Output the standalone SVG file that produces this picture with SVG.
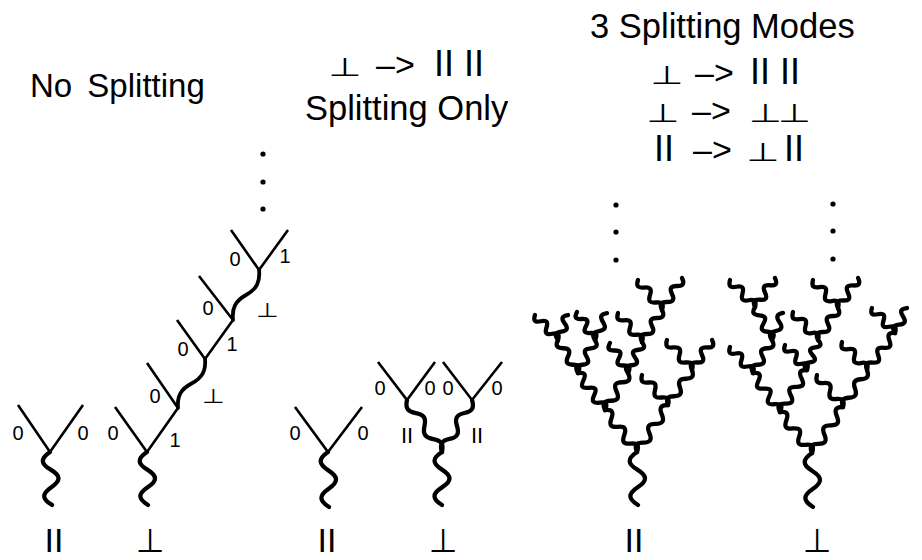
<svg xmlns="http://www.w3.org/2000/svg" width="922" height="560" viewBox="0 0 922 560">
<style>
.s{fill:none;stroke:#000;stroke-width:2.6;stroke-linecap:butt}
.wv{fill:none;stroke:#000;stroke-width:4.3;stroke-linecap:round;stroke-linejoin:round;vector-effect:non-scaling-stroke}
.wt{fill:none;stroke:#000;stroke-width:3.8;stroke-linecap:round;stroke-linejoin:round;vector-effect:non-scaling-stroke}
.t{font-family:"Liberation Sans",Arial,sans-serif;fill:#000}
.u{font-family:"DejaVu Sans",sans-serif;fill:#000;text-anchor:middle}
.n{font-family:"Liberation Sans",Arial,sans-serif;font-size:20px;fill:#000;text-anchor:middle}
.h{font-size:34px}
.b{font-size:34px;text-anchor:middle}
</style>
<defs>
<path id="w2" class="wt" d="M0,0 C0.18,1.333 0.32,1.333 0.5,0 S0.82,-1.333 1,0"/>
<path id="w3" class="wv" d="M0,0 C0.12,1.333 0.21333,1.333 0.33333,0 S0.54667,-1.333 0.66667,0 S0.88,1.333 1,0"/>
<path id="w4" class="wv" d="M0,0 C0.09,1.333 0.16,1.333 0.25,0 S0.41,-1.333 0.5,0 S0.66,1.333 0.75,0 S0.91,-1.333 1,0"/>
<path id="w5" class="wv" d="M0,0 C0.072,1.333 0.128,1.333 0.2,0 S0.328,-1.333 0.4,0 S0.528,1.333 0.6,0 S0.728,-1.333 0.8,0 S0.928,1.333 1,0"/>
</defs>
<rect width="922" height="560" fill="#fff"/>

<g id="titles">
<text class="t" x="30" y="97" font-size="33" word-spacing="6">No Splitting</text>
<text class="u" font-size="28" transform="translate(345,76) scale(1.36,0.92)">⊥</text>
<text class="t h" x="376" y="76">–&gt;</text>
<text class="t" x="434" y="76" font-size="36">II II</text>
<text class="t" x="305" y="120" font-size="34.5">Splitting Only</text>
<text class="t" x="590" y="38" font-size="34.5">3 Splitting Modes</text>
<text class="u" font-size="28" transform="translate(667,84) scale(1.36,0.92)">⊥</text>
<text class="t h" x="695" y="84">–&gt;</text>
<text class="t" x="750" y="84" font-size="36">II II</text>
<text class="u" font-size="28" transform="translate(663,122) scale(1.36,0.92)">⊥</text>
<text class="t h" x="692" y="122">–&gt;</text>
<text class="u" font-size="28" letter-spacing="-3" transform="translate(778,122) scale(1.36,0.92)">⊥⊥</text>
<text class="t" x="654" y="161" font-size="36">II</text>
<text class="t h" x="693" y="161">–&gt;</text>
<text class="u" font-size="28" transform="translate(763,161) scale(1.36,0.92)">⊥</text>
<text class="t" x="784" y="161" font-size="36">II</text>
</g>

<g id="no-splitting-parallel">
<path class="s" d="M18,405 L50,452 L83,405"/>
<use href="#w3" transform="translate(50,452) rotate(87.8) scale(53,7.5)"/>
<text class="n" x="18" y="440">0</text>
<text class="n" x="83" y="440">0</text>
<text class="t b" x="54" y="552">II</text>
</g>

<g id="no-splitting-perp">
<path class="s" d="M115,407 L147,452 L178,408 M147,363 L178,408 M177,320 L205,359 L233,320 M199,276 L233,320 M231,230 L259,270 L288,230"/>
<use href="#w3" transform="translate(147,452) rotate(88.9) scale(53,7.5)"/>
<use href="#w2" transform="translate(178,408) rotate(-61.1) scale(56,-5)"/>
<use href="#w2" transform="translate(233,320) rotate(-62.5) scale(56.4,-5)"/>
<text class="n" x="113" y="440">0</text>
<text class="n" x="175" y="447">1</text>
<text class="n" x="155" y="403">0</text>
<text class="u" font-size="20" transform="translate(213,403) scale(1.3,1)">⊥</text>
<text class="n" x="183" y="356">0</text>
<text class="n" x="232" y="351">1</text>
<text class="n" x="208" y="315">0</text>
<text class="u" font-size="20" transform="translate(267,317) scale(1.3,1)">⊥</text>
<text class="n" x="235" y="266">0</text>
<text class="n" x="285" y="263">1</text>
<circle cx="263" cy="154" r="2.6"/>
<circle cx="263" cy="182" r="2.6"/>
<circle cx="263" cy="209" r="2.6"/>
<text class="u" x="150" y="552" font-size="33">⊥</text>
</g>

<g id="splitting-only-parallel">
<path class="s" d="M295,407 L328,452 L362,407"/>
<use href="#w3" transform="translate(328,452) rotate(88.9) scale(55,7.5)"/>
<text class="n" x="295" y="440">0</text>
<text class="n" x="363" y="440">0</text>
<text class="t b" x="327" y="552">II</text>
</g>

<g id="splitting-only-perp">
<path class="s" d="M378,362 L407,400 L435,362 M443,362 L472,400 L502,362"/>
<use href="#w4" transform="translate(407,400) rotate(56.1) scale(62.7,4.5)"/>
<use href="#w4" transform="translate(472,400) rotate(120) scale(60,-4.5)"/>
<use href="#w3" transform="translate(442,452) rotate(90) scale(53,7.5)"/>
<text class="n" x="380" y="395">0</text>
<text class="n" x="430" y="395">0</text>
<text class="n" x="448" y="395">0</text>
<text class="n" x="497" y="395">0</text>
<text class="t" x="407" y="443" font-size="22" text-anchor="middle">II</text>
<text class="t" x="477" y="443" font-size="22" text-anchor="middle">II</text>
<text class="u" x="443" y="552" font-size="33">⊥</text>
</g>

<g id="three-modes-parallel">
<use href="#w3" transform="translate(637,452) rotate(88.9) scale(53,7.5)"/>
<use href="#w5" transform="translate(637,452) rotate(-127.3) scale(52.8,4.5)"/>
<use href="#w5" transform="translate(637,452) rotate(-56.6) scale(56.3,-4.5)"/>
<use href="#w5" transform="translate(605,410) rotate(-126.1) scale(45.8,4.5)"/>
<use href="#w4" transform="translate(605,410) rotate(-58.1) scale(43.6,-4.5)"/>
<use href="#w4" transform="translate(578,373) rotate(-121.2) scale(38.6,4)"/>
<use href="#w4" transform="translate(578,373) rotate(-62.7) scale(37.1,-4)"/>
<use href="#w4" transform="translate(558,340) rotate(-132.6) scale(34,4)"/>
<use href="#w3" transform="translate(558,340) rotate(-68.2) scale(26.9,-4)"/>
<use href="#w4" transform="translate(595,340) rotate(-122.7) scale(33.3,4)"/>
<use href="#w3" transform="translate(595,340) rotate(-66) scale(29.5,-4)"/>
<use href="#w4" transform="translate(628,373) rotate(-121) scale(35,4)"/>
<use href="#w4" transform="translate(628,373) rotate(-65.7) scale(34,-4)"/>
<use href="#w4" transform="translate(642,342) rotate(-129.6) scale(37.6,4)"/>
<use href="#w4" transform="translate(642,342) rotate(-58) scale(37.7,-4)"/>
<use href="#w4" transform="translate(662,310) rotate(-128.7) scale(38.4,4)"/>
<use href="#w4" transform="translate(662,310) rotate(-58) scale(37.7,-4)"/>
<use href="#w4" transform="translate(668,405) rotate(-130.9) scale(39.7,4)"/>
<use href="#w4" transform="translate(668,405) rotate(-55.6) scale(42.4,-4)"/>
<use href="#w4" transform="translate(692,370) rotate(-129.8) scale(39.1,4)"/>
<use href="#w4" transform="translate(692,370) rotate(-56.3) scale(36.1,-4)"/>
<circle cx="616" cy="205" r="2.6"/>
<circle cx="616" cy="232" r="2.6"/>
<circle cx="616" cy="260" r="2.6"/>
<text class="t b" x="634" y="552">II</text>
</g>

<g id="three-modes-perp">
<use href="#w3" transform="translate(812,453) rotate(88.9) scale(54,7.5)"/>
<use href="#w5" transform="translate(812,453) rotate(-128) scale(52,4.5)"/>
<use href="#w5" transform="translate(812,453) rotate(-56) scale(55.5,-4.5)"/>
<use href="#w5" transform="translate(780,412) rotate(-124.7) scale(47.4,4.5)"/>
<use href="#w5" transform="translate(780,412) rotate(-57.3) scale(49.9,-4.5)"/>
<use href="#w4" transform="translate(753,373) rotate(-131.5) scale(34.7,4)"/>
<use href="#w4" transform="translate(753,373) rotate(-60.1) scale(38.1,-4)"/>
<use href="#w4" transform="translate(772,340) rotate(-117.3) scale(37.1,4)"/>
<use href="#w3" transform="translate(772,340) rotate(-67.8) scale(29.2,-4)"/>
<use href="#w4" transform="translate(755,307) rotate(-132.8) scale(36.8,4)"/>
<use href="#w4" transform="translate(755,307) rotate(-55.4) scale(35.2,-4)"/>
<use href="#w4" transform="translate(807,370) rotate(-131.3) scale(33.3,4)"/>
<use href="#w4" transform="translate(807,370) rotate(-69.9) scale(32,-4)"/>
<use href="#w4" transform="translate(818,340) rotate(-131.8) scale(37.5,4)"/>
<use href="#w4" transform="translate(818,340) rotate(-58) scale(37.7,-4)"/>
<use href="#w4" transform="translate(838,308) rotate(-131.8) scale(37.5,4)"/>
<use href="#w4" transform="translate(838,308) rotate(-56.3) scale(36.1,-4)"/>
<use href="#w4" transform="translate(843,407) rotate(-129.1) scale(41.2,4)"/>
<use href="#w4" transform="translate(843,407) rotate(-57) scale(44.1,-4)"/>
<use href="#w4" transform="translate(867,370) rotate(-131.8) scale(37.5,4)"/>
<use href="#w5" transform="translate(867,370) rotate(-52.9) scale(46.4,-4)"/>
<use href="#w4" transform="translate(895,333) rotate(-132.6) scale(34,4)"/>
<use href="#w3" transform="translate(895,333) rotate(-64.4) scale(27.7,-4)"/>
<circle cx="833" cy="204" r="2.6"/>
<circle cx="833" cy="231" r="2.6"/>
<circle cx="833" cy="259" r="2.6"/>
<text class="u" x="817" y="552" font-size="33">⊥</text>
</g>
</svg>
